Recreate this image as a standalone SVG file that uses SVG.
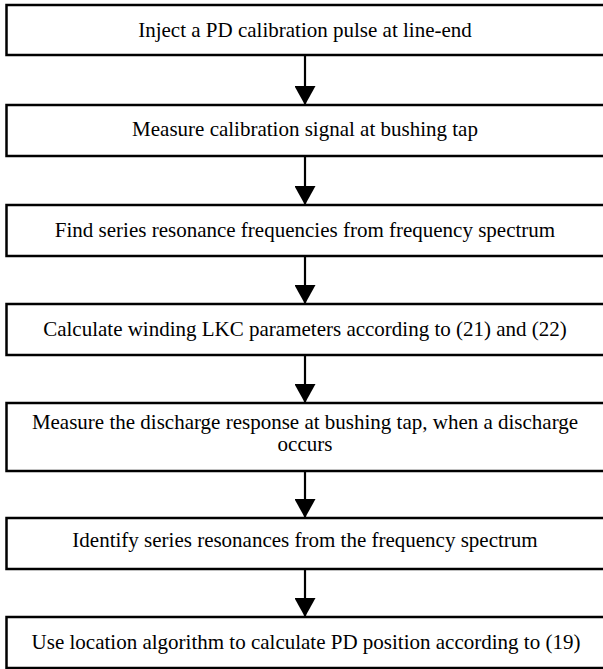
<svg xmlns="http://www.w3.org/2000/svg" width="603" height="669" viewBox="0 0 603 669">
<defs>
<style>
.box{fill:#fff;stroke:#000;stroke-width:2.5}
.t{font-family:"Liberation Serif","Times New Roman",serif;font-size:21px;fill:#000;text-anchor:middle}
.c{stroke:#000;stroke-width:2.2;fill:none}
</style>
<marker id="ah" markerWidth="19" markerHeight="21" refX="19" refY="10.5" orient="auto" markerUnits="userSpaceOnUse" viewBox="0 0 19 21">
<path d="M0,0 L19,10.5 L0,21 Z" fill="#000"/>
</marker>
</defs>
<rect width="603" height="669" fill="#fff"/>
<g id="n1"><rect class="box" x="6.5" y="5" width="598" height="50"/><text class="t" x="305" y="37">Inject a PD calibration pulse at line-end</text></g>
<g id="n2"><rect class="box" x="6.5" y="105" width="598" height="51"/><text class="t" x="305" y="136">Measure calibration signal at bushing tap</text></g>
<g id="n3"><rect class="box" x="6.5" y="205" width="598" height="51"/><text class="t" x="305" y="237">Find series resonance frequencies from frequency spectrum</text></g>
<g id="n4"><rect class="box" x="6.5" y="304" width="598" height="51"/><text class="t" x="305" y="336">Calculate winding LKC parameters according to (21) and (22)</text></g>
<g id="n5"><rect class="box" x="6.5" y="403" width="598" height="68"/><text class="t" x="305" y="429">Measure the discharge response at bushing tap, when a discharge</text><text class="t" x="305" y="451">occurs</text></g>
<g id="n6"><rect class="box" x="6.5" y="518" width="598" height="51"/><text class="t" x="305" y="547">Identify series resonances from the frequency spectrum</text></g>
<g id="n7"><rect class="box" x="6.5" y="617" width="598" height="51"/><text class="t" x="306" y="649">Use location algorithm to calculate PD position according to (19)</text></g>
<g id="connectors">
<line class="c" x1="305" y1="55" x2="305" y2="105" marker-end="url(#ah)"/>
<line class="c" x1="305" y1="156" x2="305" y2="205" marker-end="url(#ah)"/>
<line class="c" x1="305" y1="256" x2="305" y2="304" marker-end="url(#ah)"/>
<line class="c" x1="305" y1="355" x2="305" y2="403" marker-end="url(#ah)"/>
<line class="c" x1="305" y1="471" x2="305" y2="518" marker-end="url(#ah)"/>
<line class="c" x1="305" y1="569" x2="305" y2="617" marker-end="url(#ah)"/>
</g>
</svg>
